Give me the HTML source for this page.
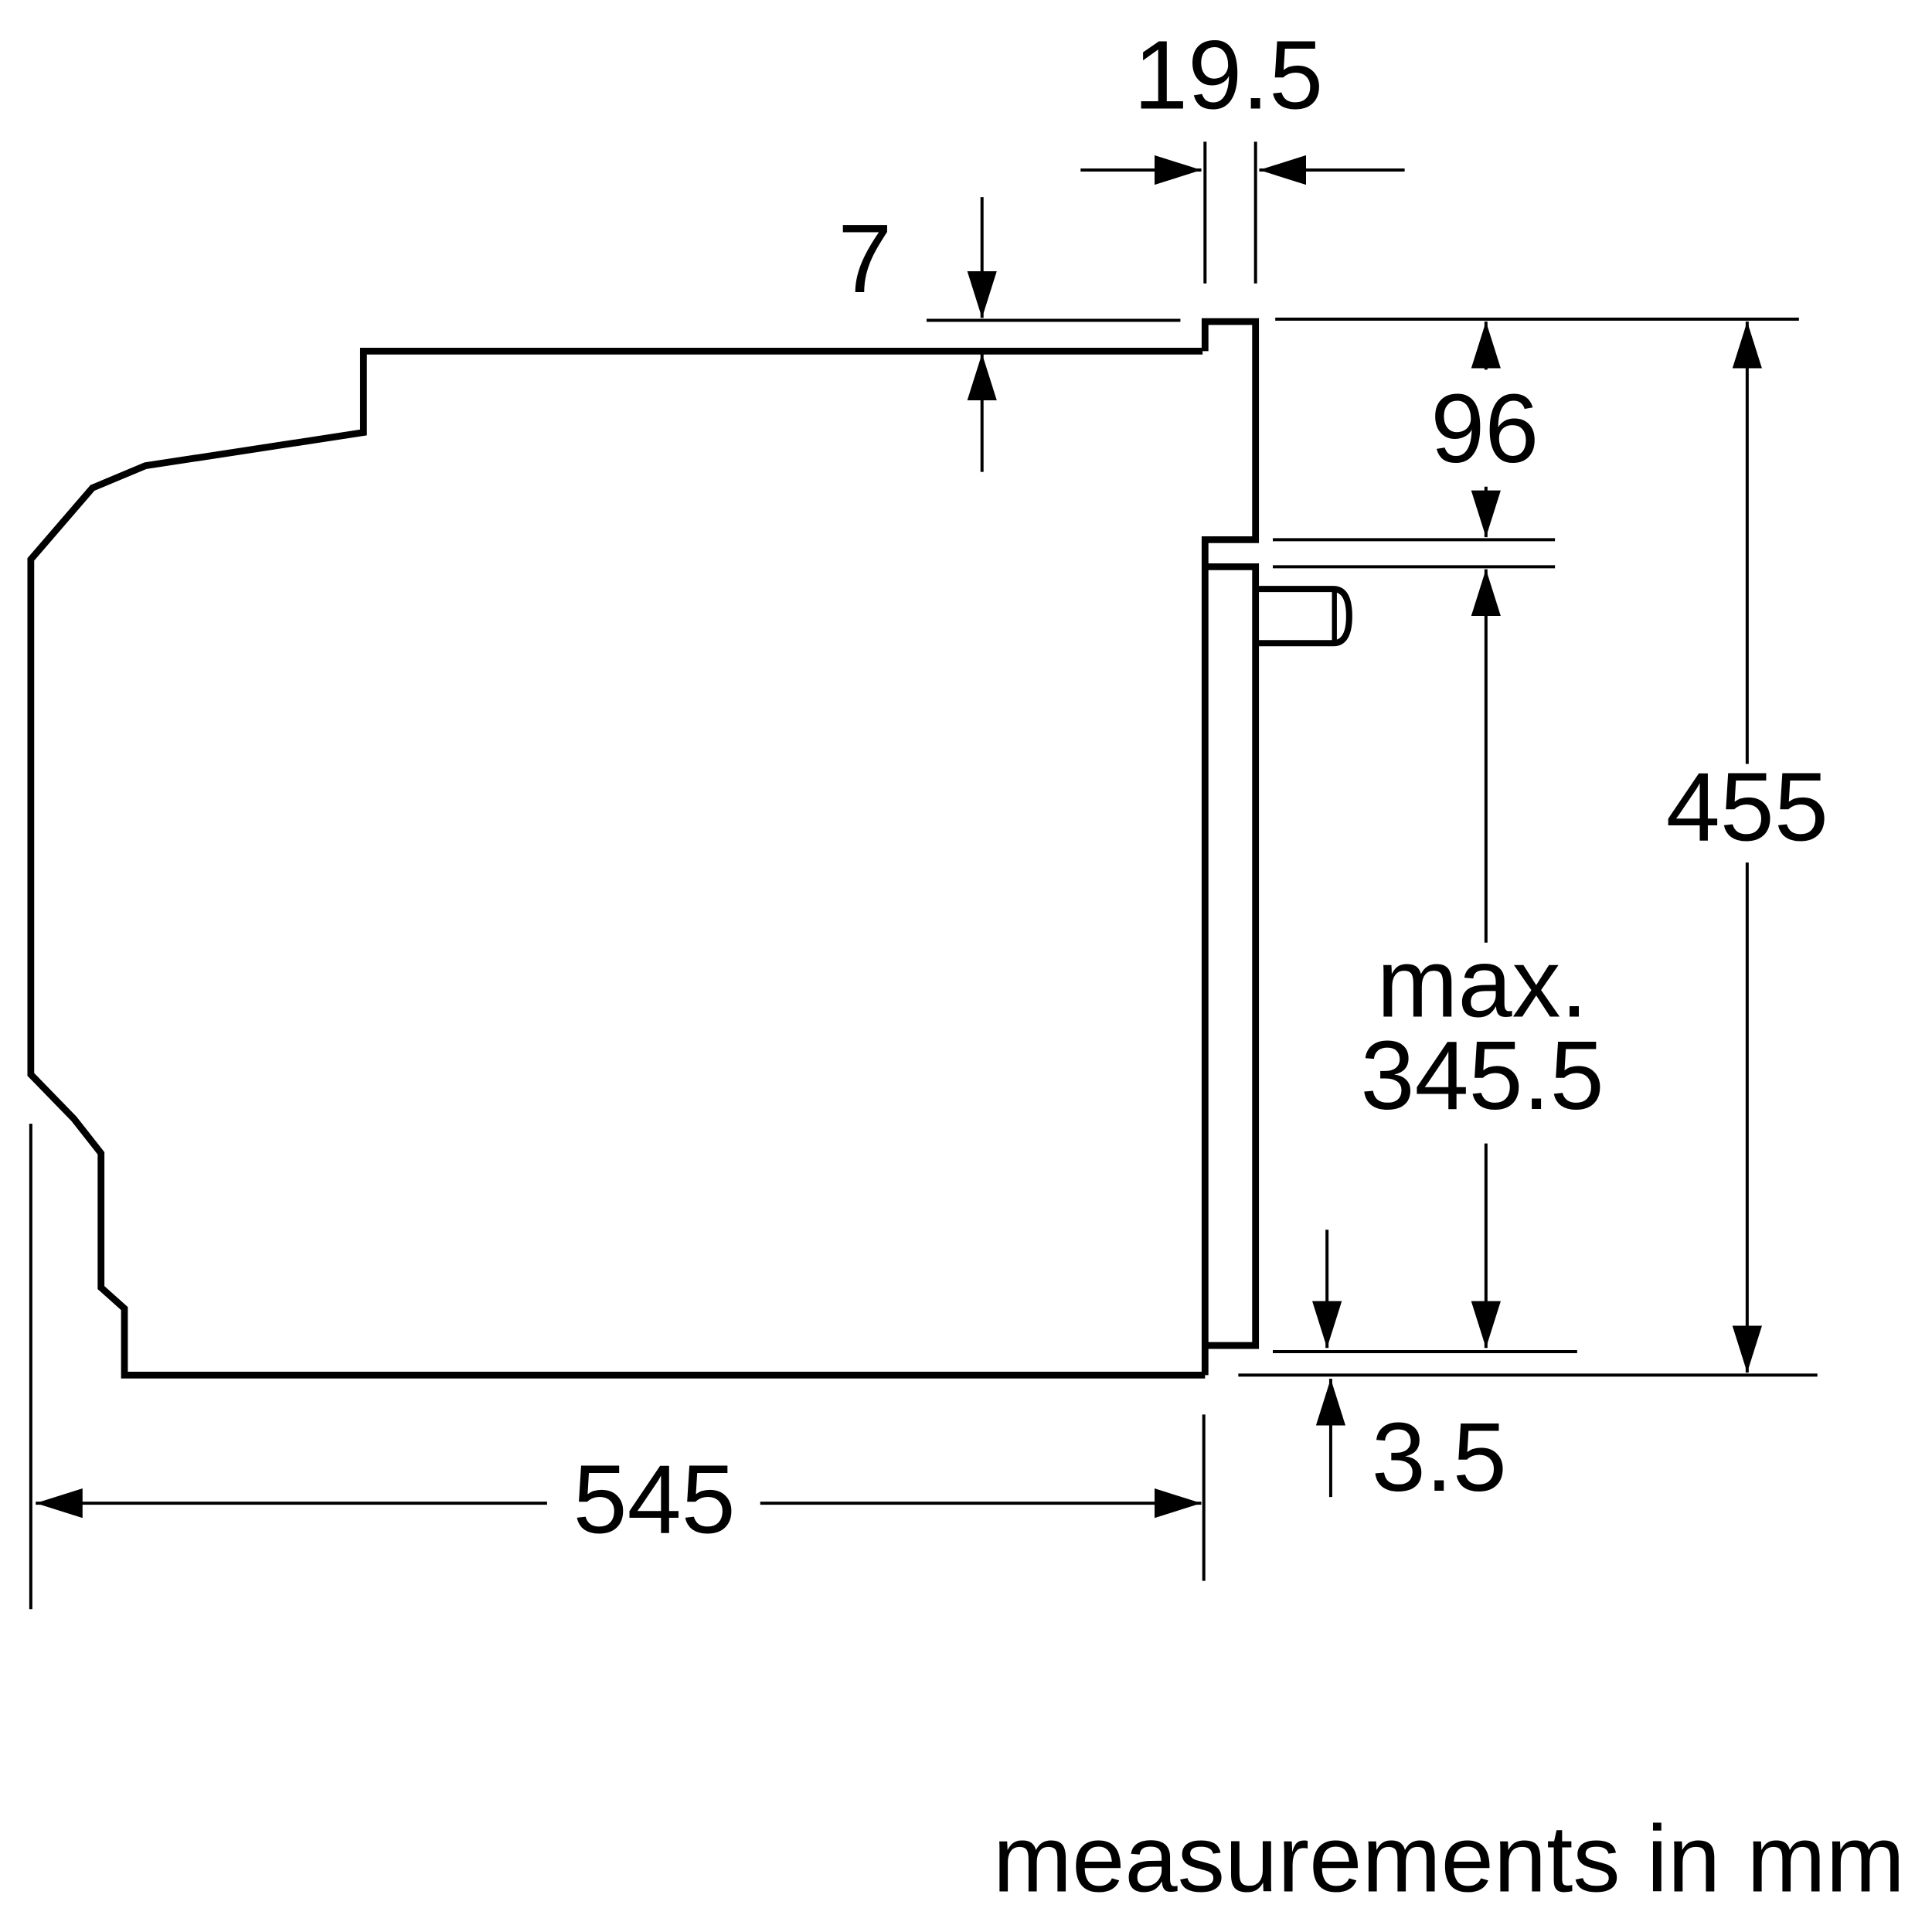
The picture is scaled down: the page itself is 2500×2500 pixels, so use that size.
<!DOCTYPE html>
<html><head><meta charset="utf-8"><style>html,body{margin:0;padding:0;background:#fff}svg{display:block}</style></head>
<body>
<svg width="2500" height="2500" viewBox="0 0 1568 1568" xmlns="http://www.w3.org/2000/svg">
<defs>
<marker id="a" markerWidth="40" markerHeight="24" refX="38" refY="12" orient="auto" markerUnits="userSpaceOnUse">
<path d="M0,0 L38,12 L0,24 Z" fill="#000"/></marker>
</defs>
<g fill="none" stroke="#000" stroke-width="5.5" stroke-linejoin="miter">
<polyline points="976,285 295,285 295,351 118,378 75,396 25,454 25,872 60,908 82,936 82,1045 101,1062 101,1116 978,1116"/>
<path d="M978,1116 L978,1092 M978,285 L978,261 L1019,261 L1019,438 L978,438 L978,460 L1019,460 L1019,1092 L978,1092 L978,460"/>
<path d="M1019,478 L1082,478 Q1095,478 1095,500 Q1095,522 1082,522 L1019,522" stroke-width="5"/>
<line x1="1083" y1="479" x2="1083" y2="521" stroke-width="4"/>
</g>
<g fill="none" stroke="#000" stroke-width="2.5">
<line x1="978" y1="115" x2="978" y2="230"/>
<line x1="1019" y1="115" x2="1019" y2="230"/>
<line x1="877" y1="138" x2="975" y2="138" marker-end="url(#a)"/>
<line x1="1140" y1="138" x2="1022" y2="138" marker-end="url(#a)"/>
<line x1="752" y1="260" x2="958" y2="260"/>
<line x1="797" y1="160" x2="797" y2="258" marker-end="url(#a)"/>
<line x1="797" y1="383" x2="797" y2="287" marker-end="url(#a)"/>
<line x1="1035" y1="259" x2="1460" y2="259"/>
<line x1="1206" y1="300" x2="1206" y2="261" marker-end="url(#a)"/>
<line x1="1206" y1="395" x2="1206" y2="436" marker-end="url(#a)"/>
<line x1="1033" y1="438" x2="1262" y2="438"/>
<line x1="1033" y1="460" x2="1262" y2="460"/>
<line x1="1206" y1="765" x2="1206" y2="462" marker-end="url(#a)"/>
<line x1="1206" y1="928" x2="1206" y2="1094" marker-end="url(#a)"/>
<line x1="1033" y1="1097" x2="1280" y2="1097"/>
<line x1="1418" y1="620" x2="1418" y2="261" marker-end="url(#a)"/>
<line x1="1418" y1="700" x2="1418" y2="1114" marker-end="url(#a)"/>
<line x1="1005" y1="1116" x2="1475" y2="1116"/>
<line x1="1077" y1="998" x2="1077" y2="1094" marker-end="url(#a)"/>
<line x1="1080" y1="1215" x2="1080" y2="1119" marker-end="url(#a)"/>
<line x1="25" y1="912" x2="25" y2="1306"/>
<line x1="977" y1="1148" x2="977" y2="1283"/>
<line x1="444" y1="1220" x2="29" y2="1220" marker-end="url(#a)"/>
<line x1="617" y1="1220" x2="975" y2="1220" marker-end="url(#a)"/>
</g>
<g font-family="Liberation Sans, sans-serif" font-size="79" fill="#000" text-anchor="middle">
<text x="997" y="88">19.5</text>
<text x="702" y="237">7</text>
<text x="1205" y="375">96</text>
<text x="1203" y="825">max.</text>
<text x="1203" y="900">345.5</text>
<text x="1418" y="682">455</text>
<text x="1168" y="1210">3.5</text>
<text x="531" y="1244">545</text>
<text x="1546" y="1535" font-size="77" text-anchor="end">measurements in mm</text>
</g>
</svg>
</body></html>
